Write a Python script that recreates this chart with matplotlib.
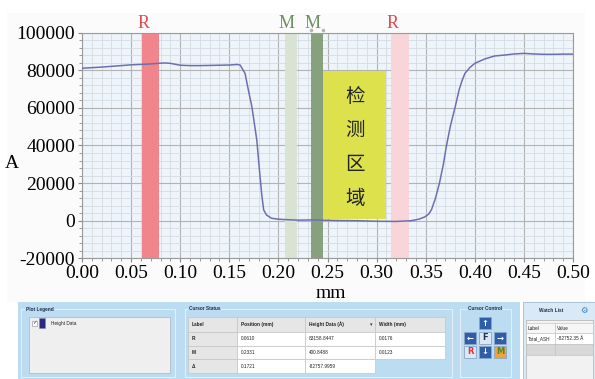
import matplotlib.pyplot as plt
import matplotlib.transforms as mtransforms
from matplotlib.patches import Rectangle
from matplotlib.ticker import MultipleLocator, FormatStrFormatter

plt.rcParams['font.family'] = ['Liberation Serif', 'DejaVu Serif']
plt.rcParams['axes.unicode_minus'] = False

# height profile
pos_mm = [0.000, 0.010, 0.020, 0.030, 0.040, 0.050, 0.061, 0.070, 0.080, 0.085,
          0.090, 0.095, 0.100, 0.110, 0.120, 0.130, 0.140, 0.150, 0.158, 0.161,
          0.166, 0.170, 0.173, 0.178, 0.181, 0.183, 0.185, 0.188, 0.193, 0.200,
          0.210, 0.220, 0.233, 0.245, 0.260, 0.280, 0.300, 0.320, 0.335, 0.343,
          0.349, 0.353, 0.356, 0.360, 0.364, 0.368, 0.371, 0.375, 0.380, 0.384,
          0.387, 0.390, 0.395, 0.400, 0.410, 0.420, 0.430, 0.440, 0.450, 0.460,
          0.470, 0.480, 0.490, 0.500]
height = [81100, 81400, 81700, 82100, 82500, 82900, 83160, 83400, 83800, 83900,
          83700, 83200, 82700, 82500, 82500, 82600, 82700, 82800, 83100, 82800,
          78400, 68000, 60600, 42900, 25200, 14000, 5700, 3000, 1300, 800,
          500, 300, 400, 300, 100, 0, -300, -400, 0, 800,
          2000, 3500, 6000, 12000, 20000, 30000, 39500, 50000, 60500, 69500,
          74500, 78400, 81500, 83700, 86000, 87600, 88100, 88700, 89000, 88700,
          88500, 88500, 88600, 88600]

cursor_names = ['R', 'M', 'M', 'R']
cursor_pos = [0.0610, 0.2067, 0.2331, 0.3147]
cursor_width = [0.0176, 0.0125, 0.0123, 0.0183]
cursor_colors = ['#f0868b', '#d8e3d3', '#87a17f', '#f7d5d8']
label_colors = ['#e04a4f', '#6e8f60', '#6e8f60', '#e04a4f']

zone_x = [0.2457, 0.3096]
zone_y = [1000, 79600]
zone_chars = ['检', '测', '区', '域']

table_header = ['Label', 'Position (mm)', 'Height Data (Å)', 'Width (mm)']
table_rows = [['R', '0.0610', '83158.8447', '0.0176'],
              ['M', '0.2331', '400.8488', '0.0123'],
              ['Δ', '0.1721', '-82757.9959', '']]
watch_header = ['Label', 'Value']
watch_rows = [['Total_ASH', '-82752.35 Å']]

fig = plt.figure(figsize=(5.95, 3.79), dpi=100)

# ---- software panel drawn in pixel units ----
ui = fig.add_axes([0, 0, 1, 1])
ui.set_xlim(0, 595)
ui.set_ylim(379, 0)
ui.axis('off')
sans = ['Liberation Sans', 'DejaVu Sans']
fs = 3.4

ui.add_patch(Rectangle((7, 13), 578, 289, fc='#fbfbfb', ec='none'))
ui.add_patch(Rectangle((18, 302), 502, 77, fc='#bcdcf1', ec='none'))


def group(x0, y0, x1, y1, title, tx, ha='left'):
    ui.add_patch(Rectangle((x0, y0), x1 - x0, y1 - y0, fc='none', ec='#e6f1fa', lw=0.7))
    ui.text(tx, y0, title, ha=ha, va='center', fontsize=fs, fontweight='bold',
            family=sans, color='#1f2f4f',
            bbox=dict(fc='#bcdcf1', ec='none', pad=0.6))


group(21, 309, 175, 377, 'Plot Legend', 26)
group(185, 309, 452, 377, 'Cursor Status', 189)
group(460, 309, 511, 377, 'Cursor Control', 485, 'center')

# legend box
ui.add_patch(Rectangle((29, 317), 141, 56, fc='#efefef', ec='#a9b4bd', lw=0.5))
ui.add_patch(Rectangle((31.5, 320.5), 5, 5, fc='white', ec='#8a8a8a', lw=0.4))
ui.text(34, 323, '✓', ha='center', va='center', fontsize=4, family='DejaVu Sans', color='#2b4a8a')
ui.add_patch(Rectangle((39, 318), 6, 10, fc='#2a2a78', ec='#8080c0', lw=0.4))
ui.text(51, 323, 'Height Data', ha='left', va='center', fontsize=fs, family=sans, color='#222222')

# cursor status table
col_x = [188, 237, 305, 375, 445]
row_y = [317, 332, 346, 359, 373]
cells = [table_header] + table_rows
for r, row in enumerate(cells):
    for c, txt in enumerate(row):
        if r > 0 and c == 3 and txt == '':
            continue
        grey = r == 0 or c == 0
        ui.add_patch(Rectangle((col_x[c], row_y[r]), col_x[c + 1] - col_x[c],
                               row_y[r + 1] - row_y[r],
                               fc='#e6e6e6' if grey else 'white', ec='#c4c4c4', lw=0.5))
        ui.text(col_x[c] + 4, (row_y[r] + row_y[r + 1]) / 2, txt, ha='left', va='center',
                fontsize=fs, family=sans, fontweight='bold' if grey else 'normal',
                color='#222222')
ui.text(371, (row_y[0] + row_y[1]) / 2, '▾', ha='center', va='center', fontsize=3.5,
        family='DejaVu Sans', color='#333333')

# cursor control buttons
buttons = [('↑', 485, 323, '#2f5da8', 'white'),
           ('←', 470, 338, '#2f5da8', 'white'),
           ('F', 485, 338, '#dbe8f3', '#1f2f4f'),
           ('→', 500, 338, '#2f5da8', 'white'),
           ('R', 470, 352, '#dbe8f3', '#e03040'),
           ('↓', 485, 352, '#2f5da8', 'white'),
           ('M', 500, 352, '#f0a13a', '#4f8a2a')]
for txt, cx, cy, fc, tc in buttons:
    ui.add_patch(Rectangle((cx - 6, cy - 6), 12, 12, fc=fc, ec='#8aa6c6', lw=0.6))
    ui.text(cx, cy, txt, ha='center', va='center', fontsize=6, fontweight='bold',
            family='DejaVu Sans', color=tc)

# watch list
ui.add_patch(Rectangle((523, 302), 72, 77, fc='#d9e9f6', ec='#9fbcd6', lw=0.6))
ui.text(551, 310, 'Watch List', ha='center', va='center', fontsize=fs,
        fontweight='bold', family=sans, color='#1f2f4f')
ui.text(584, 310, '⚙', ha='center', va='center', fontsize=6, family='DejaVu Sans',
        color='#3a7fc0')
ui.add_patch(Rectangle((526, 320), 67, 59, fc='#f2f2f2', ec='#b0b0b0', lw=0.5))
wcol = [526, 555, 593]
wrow = [323, 333, 344]
for r, row in enumerate([watch_header] + watch_rows):
    for c, txt in enumerate(row):
        ui.add_patch(Rectangle((wcol[c], wrow[r]), wcol[c + 1] - wcol[c], wrow[r + 1] - wrow[r],
                               fc='#f6f6f6' if r == 0 else 'white', ec='#bdbdbd', lw=0.4))
        ui.text(wcol[c] + 2, (wrow[r] + wrow[r + 1]) / 2, txt, ha='left', va='center',
                fontsize=fs, family=sans, color='#222222')
ui.add_patch(Rectangle((526, 344), 67, 11, fc='#d8d8d8', ec='#bdbdbd', lw=0.4))
ui.plot([555, 555], [344, 355], color='#bdbdbd', lw=0.4)

# ---- the height chart ----
ax = fig.add_axes([82 / 595, 1 - 258.3 / 379, 491 / 595, 225.6 / 379])
ax.set_facecolor('#eef5fa')
ax.plot(pos_mm, height, color='#6b70ad', lw=1.1, zorder=3)

blend = mtransforms.blended_transform_factory(ax.transData, ax.transAxes)
for name, p, w, c, lc in zip(cursor_names, cursor_pos, cursor_width, cursor_colors, label_colors):
    ax.axvspan(p, p + w, color=c, lw=0, zorder=2)
    ax.text(p + 0.002, 1.04, name, transform=blend, ha='center', va='center',
            fontsize=13, color=lc)
ax.plot([cursor_pos[2], cursor_pos[2] + cursor_width[2]], [1.012, 1.012], transform=blend,
        ls='none', marker='o', ms=1.6, color='#b5b5b5', clip_on=False)

ax.add_patch(Rectangle((zone_x[0], zone_y[0]), zone_x[1] - zone_x[0], zone_y[1] - zone_y[0],
                       fc='#dde14c', ec='none', zorder=4))
zx = (zone_x[0] + zone_x[1]) / 2
for i, ch in enumerate(zone_chars):
    ax.text(zx, 66000 - i * 18000, ch, ha='center', va='center', fontsize=14,
            family=['Noto Sans CJK SC', 'DejaVu Sans'], color='#222222', zorder=5)

ax.set_xlim(0, 0.5)
ax.set_ylim(-20000, 100000)
ax.xaxis.set_major_locator(MultipleLocator(0.05))
ax.xaxis.set_minor_locator(MultipleLocator(0.01))
ax.yaxis.set_major_locator(MultipleLocator(20000))
ax.yaxis.set_minor_locator(MultipleLocator(4000))
ax.xaxis.set_major_formatter(FormatStrFormatter('%.2f'))
ax.set_axisbelow(True)
ax.grid(which='major', color='#b3b3b3', lw=0.8)
ax.grid(which='minor', color='#d6dbe0', lw=0.6)
for s in ax.spines.values():
    s.set_color('#9a9a9a')
ax.tick_params(which='major', length=3, color='#888888', labelsize=14, pad=2)
ax.tick_params(which='minor', length=2, color='#888888')

ax.set_xlabel('mm', fontsize=14)
ax.xaxis.label.set_va('center')
ax.xaxis.set_label_coords(0.507, -0.158)
ax.set_ylabel('A', fontsize=14, rotation=0, va='center', ha='center')
ax.yaxis.set_label_coords(-0.1426, 0.418)

fig.savefig('out.png', dpi=100)
